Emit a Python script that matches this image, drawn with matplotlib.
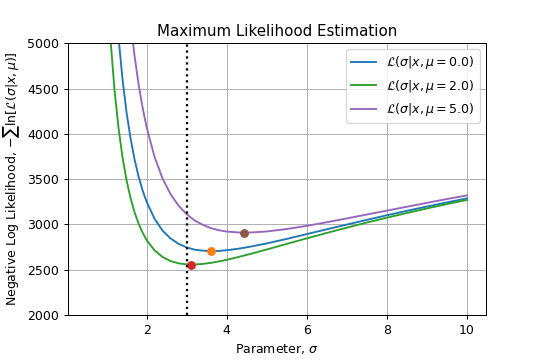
import matplotlib
matplotlib.use("Agg")
import matplotlib.pyplot as plt

# sigma values read along the x axis
sigma = [1.0, 1.1, 1.2, 1.3, 1.4, 1.5, 1.6, 1.7, 1.8, 1.9, 2.0, 2.2, 2.4, 2.6, 2.8,
         3.0, 3.2, 3.4, 3.6, 3.8, 4.0, 4.3, 4.6, 5.0, 5.5, 6.0, 6.5, 7.0, 7.5, 8.0,
         8.5, 9.0, 9.5, 10.0]

# negative log likelihood
nll_mu0 = [7469, 6427, 5650, 5058, 4597, 4235, 3947, 3716, 3528, 3375, 3250, 3061,
           2931, 2844, 2785, 2746, 2721, 2710, 2706, 2707, 2715, 2732, 2755, 2790,
           2840, 2893, 2946, 2998, 3050, 3101, 3150, 3197, 3243, 3287]
nll_mu2 = [5784, 5034, 4479, 4060, 3738, 3487, 3289, 3133, 3008, 2909, 2828, 2713,
           2640, 2595, 2570, 2559, 2557, 2564, 2575, 2591, 2609, 2641, 2675, 2723,
           2785, 2846, 2906, 2964, 3021, 3074, 3126, 3176, 3224, 3270]
nll_mu5 = [10769, 9154, 7941, 7010, 6281, 5702, 5236, 4858, 4547, 4289, 4075, 3743,
           3505, 3332, 3206, 3113, 3043, 2996, 2960, 2936, 2921, 2911, 2911, 2922,
           2949, 2984, 3024, 3066, 3109, 3152, 3195, 3238, 3280, 3320]

mu_values = [0.0, 2.0, 5.0]
# minimum of each curve (sigma, nll)
min_sigma = [3.62, 3.12, 4.44]
min_nll = [2706, 2557, 2910]

true_sigma = 3.0

fig, ax = plt.subplots(figsize=(6, 4), dpi=90)
fig.subplots_adjust(left=0.125, right=0.9, top=0.88, bottom=0.125)

curves = [nll_mu0, nll_mu2, nll_mu5]
for i, (mu, nll) in enumerate(zip(mu_values, curves)):
    ax.plot(sigma, nll, label=r"$\mathcal{L}(\sigma|x,\mu=%.1f)$" % mu)
    ax.plot(min_sigma[i], min_nll[i], "o")

ax.axvline(true_sigma, color="black", linestyle=":", linewidth=1.8)

ax.set_xlim(0.025, 10.475)
ax.set_ylim(2000, 5000)
ax.set_xticks([2, 4, 6, 8, 10])
ax.set_title("Maximum Likelihood Estimation")
ax.set_xlabel(r"Parameter, $\sigma$")
ax.set_ylabel(r"Negative Log Likelihood, $-\sum \ln[\mathcal{L}(\sigma|x,\mu)]$")
ax.grid(True)
ax.legend(loc="upper right")

fig.savefig("out.png")
